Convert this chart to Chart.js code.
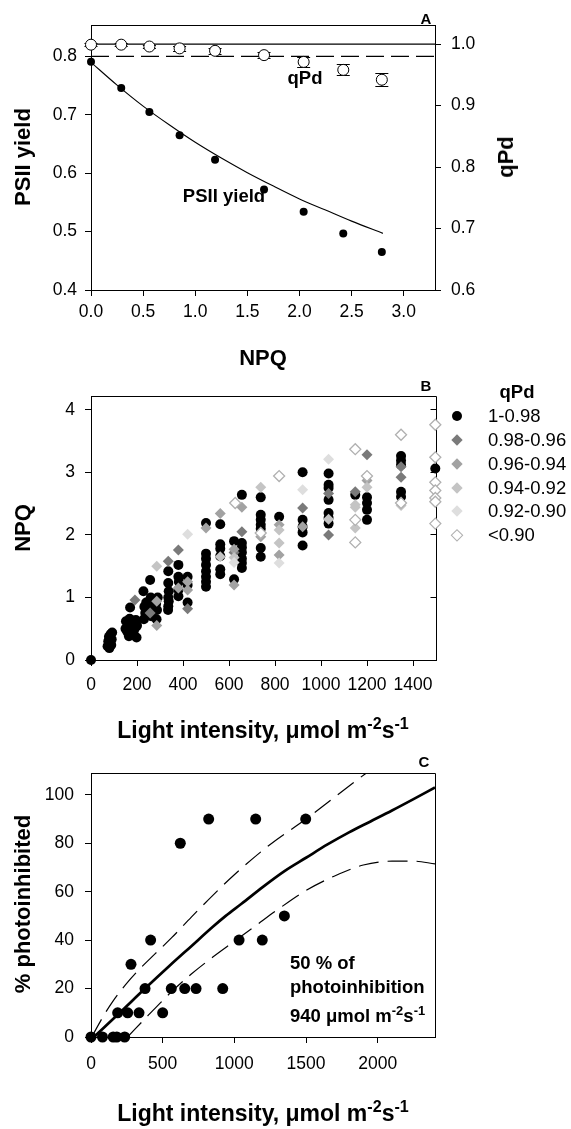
<!DOCTYPE html>
<html><head><meta charset="utf-8">
<script src="https://cdn.jsdelivr.net/npm/chart.js@4.4.1/dist/chart.umd.min.js"></script>
<style>
html,body{margin:0;padding:0;background:#fff;}
#wrap{position:relative;width:571px;height:1129px;overflow:hidden;font-family:"Liberation Sans",Arial,Helvetica,sans-serif;color:#000;}
canvas{position:absolute;left:0;}
.t{position:absolute;white-space:nowrap;transform:translate(-50%,-50%);font-weight:bold;line-height:1;}
.r{transform:translate(-50%,-50%) rotate(-90deg);}
.l{position:absolute;white-space:nowrap;font-weight:bold;line-height:1;font-size:18.5px;transform:translateY(-50%);}
sup{font-size:70%;vertical-align:0.5em;line-height:0;}
.lg{position:absolute;white-space:nowrap;font-size:18.5px;line-height:1;transform:translateY(-50%);}
.mk{position:absolute;transform:translate(-50%,-50%);}
.circ{width:10px;height:10px;border-radius:50%;background:#000;}
.dia{width:8px;height:8px;transform:translate(-50%,-50%) rotate(45deg);}
</style></head>
<body>
<div id="wrap">
<canvas id="cA" width="571" height="340" style="top:0px"></canvas>
<canvas id="cB" width="571" height="360" style="top:340px"></canvas>
<canvas id="cC" width="571" height="429" style="top:700px"></canvas>

<div class="t" style="left:426px;top:18px;font-size:15px">A</div>
<div class="t" style="left:224px;top:196px;font-size:18.5px">PSII yield</div>
<div class="t" style="left:305px;top:78px;font-size:18.5px">qPd</div>
<div class="t r" style="left:23px;top:157px;font-size:22px">PSII yield</div>
<div class="t r" style="left:506px;top:157px;font-size:22px">qPd</div>
<div class="t" style="left:263px;top:358px;font-size:22px">NPQ</div>

<div class="t" style="left:426px;top:385px;font-size:15px">B</div>
<div class="t r" style="left:23px;top:528px;font-size:22px">NPQ</div>
<div class="t" style="left:263px;top:730px;font-size:23px">Light intensity, μmol m<sup>-2</sup>s<sup>-1</sup></div>
<div class="t" style="left:517px;top:392px;font-size:18.5px">qPd</div>
<div id="legend"></div>

<div class="t" style="left:424px;top:761px;font-size:15px">C</div>
<div class="t r" style="left:23px;top:904px;font-size:22px">% photoinhibited</div>
<div class="t" style="left:263px;top:1113px;font-size:23px">Light intensity, μmol m<sup>-2</sup>s<sup>-1</sup></div>
<div class="l" style="left:290px;top:963px">50 % of</div>
<div class="l" style="left:290px;top:987px">photoinhibition</div>
<div class="l" style="left:290px;top:1016px">940 μmol m<sup>-2</sup>s<sup>-1</sup></div>
</div>

<script>
// ---------- Panel A data ----------
const npq        = [0.0, 0.29, 0.56, 0.85, 1.19, 1.66, 2.04, 2.42, 2.79];
const psiiYield  = [0.791, 0.746, 0.705, 0.665, 0.623, 0.572, 0.534, 0.497, 0.465];
const qPd        = [0.999, 0.999, 0.996, 0.993, 0.989, 0.982, 0.971, 0.958, 0.942];
const qPdErr     = [0.002, 0.002, 0.003, 0.004, 0.005, 0.005, 0.008, 0.009, 0.011];
const yieldFitX  = [0, 0.25, 0.5, 0.75, 1.0, 1.25, 1.5, 1.75, 2.0, 2.25, 2.5, 2.8];
const yieldFitY  = [0.79, 0.751, 0.715, 0.683, 0.653, 0.626, 0.601, 0.578, 0.556, 0.537, 0.518, 0.497];
const qPdRefLevels = [1.0, 0.98];
const qPdRefX      = [0, 3.3];
const npqTicks   = [0, 0.5, 1.0, 1.5, 2.0, 2.5, 3.0];
const yieldTicks = [0.4, 0.5, 0.6, 0.7, 0.8];
const qPdTicks   = [0.6, 0.7, 0.8, 0.9, 1.0];

// ---------- Panel B data (light, NPQ) by qPd class ----------
const qPdClasses = ['1-0.98', '0.98-0.96', '0.96-0.94', '0.94-0.92', '0.92-0.90', '<0.90'];
const bBlack = [[0,0],
 [72,0.22],[75,0.3],[78,0.37],[80,0.19],[82,0.27],[85,0.41],[88,0.24],[90,0.33],[92,0.44],
 [150,0.5],[152,0.62],[158,0.45],[162,0.56],[165,0.38],[168,0.66],[170,0.84],[175,0.52],[180,0.6],[185,0.42],[190,0.5],[195,0.64],[198,0.36],[200,0.55],
 [228,1.1],[230,0.65],[232,0.85],[236,0.75],[240,0.92],
 [255,0.95],[257,1.28],[258,0.85],[260,1.0],[262,0.7],
 [283,0.9],[285,0.65],[287,0.8],[290,1.0],
 [336,1.42],[336,1.23],[338,1.1],[336,1.0],[338,0.94],[336,0.86],[335,0.8],
 [380,1.52],[380,1.33],[382,1.25],[380,1.12],[380,1.02],
 [420,1.33],[420,1.2],[420,0.92],
 [500,2.19],[500,1.7],[500,1.62],[500,1.52],[500,1.42],[500,1.33],[500,1.25],[500,1.17],
 [562,2.17],[562,1.85],[562,1.78],[562,1.66],[562,1.45],[562,1.37],
 [622,1.9],[622,1.29],
 [656,2.64],[656,1.87],[656,1.8],[656,1.72],[656,1.62],[656,1.55],[656,1.47],
 [738,2.6],[738,2.32],[738,2.24],[738,2.16],[738,2.1],[738,1.79],[738,1.65],
 [818,2.29],
 [920,3.0],[920,2.24],[920,2.13],[920,2.04],[920,1.83],
 [1033,2.98],[1033,2.8],[1033,2.75],[1033,2.56],[1033,2.35],[1033,2.27],[1033,2.18],
 [1149,2.64],
 [1200,2.6],[1200,2.51],[1200,2.4],[1200,2.24],
 [1348,3.26],[1348,3.19],[1348,3.12],[1348,2.69],[1348,2.61],
 [1497,3.06]];
const bDark  = [[191,0.96],[257,0.75],[336,1.58],[380,1.76],[420,0.82],[622,1.72],[656,2.05],[920,2.43],[1033,2.66],[1033,2.0],[1149,2.69],[1200,3.28],[1348,3.09],[1348,2.92]];
const bMid   = [[286,0.94],[286,0.55],[380,1.15],[420,1.25],[420,1.12],[500,2.11],[562,2.34],[622,1.77],[622,1.2],[656,2.44],[738,1.97],[818,1.68],[818,2.16],[920,2.13],[1200,2.87]];
const bLight = [[286,1.5],[562,1.65],[622,1.64],[738,2.76],[818,2.08],[818,1.87],[1033,2.25],[1149,2.48],[1149,2.44],[1149,2.11],[1200,2.76],[1348,2.47]];
const bPale  = [[420,2.01],[622,1.56],[818,1.55],[920,2.72],[1033,3.21]];
const bOpen  = [[627,2.51],[738,2.03],[818,2.94],[1149,3.37],[1149,2.24],[1149,1.88],[1200,2.94],[1348,3.6],[1348,2.51],[1497,3.76],[1497,3.24],[1497,2.84],[1497,2.71],[1497,2.59],[1497,2.53],[1497,2.18]];
const lightTicksB = [0, 200, 400, 600, 800, 1000, 1200, 1400];
const npqTicksB   = [0, 1, 2, 3, 4];

// ---------- Panel C data ----------
const cLight = [0, 80, 155, 180, 235, 186, 256, 335, 500, 279, 416, 377, 560, 654, 733, 919, 1033, 1195, 1349, 623, 821, 1149, 1498];
const cPct   = [0, 0, 0, 0, 0, 10, 10, 10, 10, 30, 40, 20, 20, 20, 20, 20, 40, 40, 50, 80, 90, 90, 90];
const cFitX  = [20, 200, 377, 550, 700, 850, 940, 1050, 1200, 1350, 1500, 1650, 1800, 1950, 2100, 2250, 2400];
const cFitY  = [0, 10, 20, 29.5, 37.5, 45.5, 50, 55, 62, 68.5, 74, 79.5, 84.5, 89, 93.5, 98.2, 103];
const cUpX   = [5, 90, 150, 240, 330, 450, 563, 700, 850, 1000, 1250, 1500, 1714, 1912, 2000];
const cUpY   = [0, 9, 14.5, 21.5, 27.5, 34.5, 41, 49.5, 58.5, 67, 79.5, 90, 99.7, 108.6, 112.5];
const cLoX   = [255, 400, 550, 700, 850, 1000, 1150, 1300, 1500, 1700, 1900, 2100, 2250, 2400];
const cLoY   = [0, 9, 18, 26, 33, 39.5, 46, 52.5, 60.5, 66.5, 71, 72.6, 72.6, 71.5];
const lightTicksC = [0, 500, 1000, 1500, 2000];
const pctTicks    = [0, 20, 40, 60, 80, 100];

// ---------- helpers ----------
const FONT = "'Liberation Sans', Arial, Helvetica, sans-serif";
Chart.defaults.font.family = FONT;
Chart.defaults.color = '#000';

function axis(o){
  return {
    type:'linear', position:o.pos, min:o.min, max:o.max,
    afterBuildTicks: s => { s.ticks = o.ticks.map(v => ({value:v})); },
    afterFit: s => { if (o.pos === 'left' || o.pos === 'right') s.width = o.size; else s.height = o.size; },
    ticks:{ font:{size:17.5, family:FONT}, color:'#000', padding:o.pad, autoSkip:false, maxRotation:0,
            callback: o.fmt || (v => String(v)) },
    grid:{ display:true, drawOnChartArea:false, drawTicks:true, tickLength:6, color:'#000', lineWidth:1 },
    border:{ display:true, color:'#000', width:1 },
    title:{ display:false }
  };
}
const xy = (xs, ys) => xs.map((x,i) => ({x, y:ys[i]}));
const pairs = arr => arr.map(p => ({x:p[0], y:p[1]}));

const framePlugin = {
  id:'frame',
  beforeDatasetsDraw(chart){
    const {ctx, chartArea:a} = chart;
    const top = Math.round(a.top) + 0.5, right = Math.round(a.right) + 0.5, bottom = Math.round(a.bottom) + 0.5;
    ctx.save(); ctx.strokeStyle = '#000'; ctx.lineWidth = 1;
    ctx.beginPath(); ctx.moveTo(Math.round(a.left), top); ctx.lineTo(right, top); ctx.lineTo(right, bottom); ctx.stroke();
    ctx.restore();
  }
};
const mirrorTicksPlugin = {
  id:'mirrorTicks',
  beforeDatasetsDraw(chart, args, opts){
    if (!opts || !opts.enabled) return;
    const {ctx, chartArea:a} = chart; const s = chart.scales.y;
    const x = Math.round(a.right) + 0.5;
    ctx.save(); ctx.strokeStyle = '#000'; ctx.lineWidth = 1; ctx.beginPath();
    s.ticks.forEach(t => { const y = Math.round(s.getPixelForValue(t.value) - 0.5) + 0.5; ctx.moveTo(x, y); ctx.lineTo(x - 6, y); });
    ctx.stroke(); ctx.restore();
  }
};
const errorBarsPlugin = {
  id:'errorBars',
  beforeDatasetsDraw(chart){
    const {ctx} = chart; const xs = chart.scales.x, ys = chart.scales.y2;
    ctx.save(); ctx.strokeStyle = '#000'; ctx.lineWidth = 1; ctx.beginPath();
    npq.forEach((x,i) => {
      const px = xs.getPixelForValue(x);
      const t = Math.round(ys.getPixelForValue(qPd[i] + qPdErr[i])) + 0.5;
      const b = Math.round(ys.getPixelForValue(qPd[i] - qPdErr[i])) + 0.5;
      ctx.moveTo(px, t); ctx.lineTo(px, b);
      ctx.moveTo(px - 6.5, t); ctx.lineTo(px + 6.5, t);
      ctx.moveTo(px - 6.5, b); ctx.lineTo(px + 6.5, b);
    });
    ctx.stroke(); ctx.restore();
  }
};
const common = { responsive:false, animation:false, events:[], devicePixelRatio:1 };

// ---------- Chart A ----------
new Chart(document.getElementById('cA'), {
  type:'scatter',
  data:{ datasets:[
    { label:'qPd', data: xy(npq, qPd), yAxisID:'y2', pointRadius:5.5, pointBackgroundColor:'#fff', pointBorderColor:'#000', pointBorderWidth:1, order:1, clip:false },
    { label:'PSII yield', data: xy(npq, psiiYield), yAxisID:'y', pointRadius:4, pointBackgroundColor:'#000', pointBorderColor:'#000', pointBorderWidth:0, order:2, clip:false },
    { label:'fit', data: xy(yieldFitX, yieldFitY), yAxisID:'y', showLine:true, pointRadius:0, borderColor:'#000', borderWidth:1.1, cubicInterpolationMode:'monotone', order:3 },
    { label:'qPd 1.0', data: qPdRefX.map(x => ({x, y:qPdRefLevels[0]})), yAxisID:'y2', showLine:true, pointRadius:0, borderColor:'#000', borderWidth:1.2, order:4 },
    { label:'qPd 0.98', data: qPdRefX.map(x => ({x, y:qPdRefLevels[1]})), yAxisID:'y2', showLine:true, pointRadius:0, borderColor:'#000', borderWidth:1.2, borderDash:[18,7], order:5 }
  ]},
  options:{ ...common,
    layout:{ padding:{top:25, left:0, right:0, bottom:0} },
    plugins:{ legend:{display:false}, tooltip:{enabled:false} },
    scales:{
      x:  axis({pos:'bottom', min:0, max:3.3, ticks:npqTicks, size:50, pad:6, fmt:v => v.toFixed(1)}),
      y:  axis({pos:'left', min:0.4, max:0.854, ticks:yieldTicks, size:91, pad:8, fmt:v => v.toFixed(1)}),
      y2: axis({pos:'right', min:0.6, max:1.031, ticks:qPdTicks, size:136, pad:10, fmt:v => v.toFixed(1)})
    }
  },
  plugins:[framePlugin, errorBarsPlugin]
});

// ---------- Chart B ----------
const bStyles = [
  {data:bBlack, style:'circle',  r:5,   bg:'#000',    bc:'#000',    bw:0},
  {data:bDark,  style:'rectRot', r:5.5, bg:'#7a7a7a', bc:'#7a7a7a', bw:0},
  {data:bMid,   style:'rectRot', r:5.5, bg:'#a2a2a2', bc:'#a2a2a2', bw:0},
  {data:bLight, style:'rectRot', r:5.5, bg:'#c4c4c4', bc:'#c4c4c4', bw:0},
  {data:bPale,  style:'rectRot', r:5.5, bg:'#dedede', bc:'#dedede', bw:0},
  {data:bOpen,  style:'rectRot', r:5.5, bg:'#ffffff', bc:'#b0b0b0', bw:1.3}
];
new Chart(document.getElementById('cB'), {
  type:'scatter',
  data:{ datasets: bStyles.map((s,i) => ({
    label: qPdClasses[i], data: pairs(s.data), pointStyle:s.style, pointRadius:s.r,
    pointBackgroundColor:s.bg, pointBorderColor:s.bc, pointBorderWidth:s.bw, order: 6 - i, clip:false
  }))},
  options:{ ...common,
    layout:{ padding:{top:56, left:0, right:135, bottom:0} },
    plugins:{ legend:{display:false}, tooltip:{enabled:false}, mirrorTicks:{enabled:true} },
    scales:{
      x: axis({pos:'bottom', min:0, max:1500, ticks:lightTicksB, size:40, pad:9}),
      y: axis({pos:'left', min:0, max:4.22, ticks:npqTicksB, size:91, pad:10})
    }
  },
  plugins:[framePlugin, mirrorTicksPlugin]
});

// legend for B (HTML)
(function(){
  const lg = document.getElementById('legend');
  const rowsY = [416, 440, 463.5, 487.5, 511, 535];
  bStyles.forEach((s,i) => {
    const m = document.createElement('div');
    m.className = 'mk ' + (s.style === 'circle' ? 'circ' : 'dia');
    m.style.left = '456.5px'; m.style.top = rowsY[i] + 'px';
    if (s.style !== 'circle') {
      m.style.background = s.bg;
      if (s.bw) { m.style.border = '1.3px solid ' + s.bc; m.style.width = '6.5px'; m.style.height = '6.5px'; }
    }
    lg.appendChild(m);
    const t = document.createElement('div');
    t.className = 'lg'; t.textContent = qPdClasses[i];
    t.style.left = '488px'; t.style.top = rowsY[i] + 'px';
    lg.appendChild(t);
  });
})();

// ---------- Chart C ----------
new Chart(document.getElementById('cC'), {
  type:'scatter',
  data:{ datasets:[
    { label:'observed', data: xy(cLight, cPct), pointRadius:5.5, pointBackgroundColor:'#000', pointBorderColor:'#000', pointBorderWidth:0, order:1, clip:false },
    { label:'fit', data: xy(cFitX, cFitY), showLine:true, pointRadius:0, borderColor:'#000', borderWidth:2.7, cubicInterpolationMode:'monotone', order:2 },
    { label:'upper', data: xy(cUpX, cUpY), showLine:true, pointRadius:0, borderColor:'#000', borderWidth:1.2, borderDash:[20,9], cubicInterpolationMode:'monotone', order:3 },
    { label:'lower', data: xy(cLoX, cLoY), showLine:true, pointRadius:0, borderColor:'#000', borderWidth:1.2, borderDash:[20,9], cubicInterpolationMode:'monotone', order:4 }
  ]},
  options:{ ...common,
    layout:{ padding:{top:73, left:0, right:136, bottom:0} },
    plugins:{ legend:{display:false}, tooltip:{enabled:false} },
    scales:{
      x: axis({pos:'bottom', min:0, max:2400, ticks:lightTicksC, size:92, pad:11}),
      y: axis({pos:'left', min:0, max:109, ticks:pctTicks, size:91, pad:11})
    }
  },
  plugins:[framePlugin]
});
</script>
</body></html>
